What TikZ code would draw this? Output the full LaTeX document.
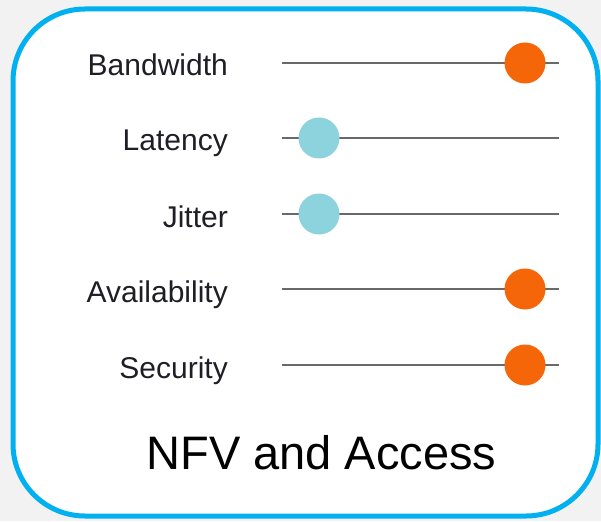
\documentclass[tikz,border=0pt]{standalone}
\usepackage{fontspec}
\setmainfont{Liberation Sans}
\definecolor{framecol}{RGB}{0,176,240}
\definecolor{pagebg}{RGB}{242,242,242}
\definecolor{trackcol}{RGB}{105,105,105}
\definecolor{hiknob}{RGB}{244,102,8}
\definecolor{loknob}{RGB}{141,211,221}
\definecolor{labelcol}{RGB}{30,30,38}
\tikzset{
  px/.style={x=1pt,y=-1pt},
  rowlabel/.style={anchor=base east,inner sep=0pt,text=labelcol,font=\fontsize{30}{30}\selectfont},
  track/.style={draw=trackcol,line width=2.2pt},
  knob/.style={circle,inner sep=0pt,minimum size=41pt},
  highknob/.style={knob,fill=hiknob},
  lowknob/.style={knob,fill=loknob},
}
\begin{document}
\begin{tikzpicture}[px]
  \useasboundingbox (0,0) rectangle (601,521);
  \fill[pagebg] (0,0) rectangle (601,521);
  % card
  \draw[framecol,fill=white,line width=5pt,rounded corners=72pt] (13,9) rectangle (598,516);

  % slider rows: label, track, knob
  \foreach \name/\txt/\y/\kx/\ks in {bw/Bandwidth/63/525/highknob,
                                   lat/Latency/138/319/lowknob,
                                   jit/Jitter/214/319/lowknob,
                                   av/Availability/289/525/highknob,
                                   sec/Security/365/525/highknob}{
    \node[rowlabel] (\name-label) at (228,\y+13) {\txt};
    \coordinate (\name-a) at (282,\y);
    \coordinate (\name-b) at (559,\y);
    \draw[track] (\name-a) -- (\name-b);
    \node[\ks] (\name-knob) at (\kx,\y) {};
  }

  \node[anchor=base,inner sep=0pt,font=\fontsize{47}{47}\selectfont] (title) at (321.5,469) {NFV and Access};
\end{tikzpicture}
\end{document}
